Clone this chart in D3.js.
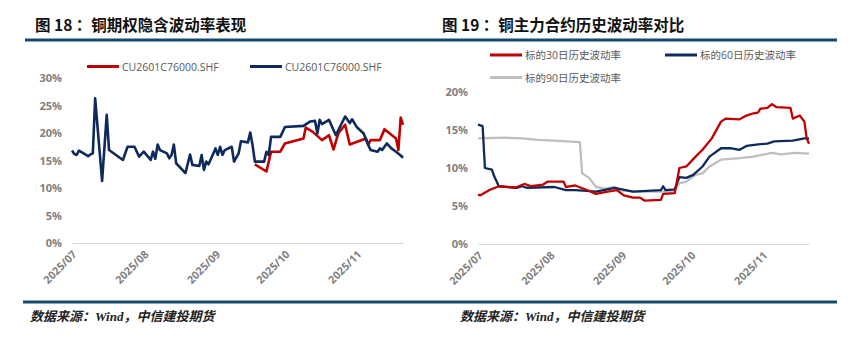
<!DOCTYPE html>
<html>
<head>
<meta charset="utf-8">
<script src="https://cdn.jsdelivr.net/npm/d3@7"></script>
<style>
  body { margin: 0; background: #fff; }
  svg { display: block; }
  .title { font-family: "Noto Sans CJK SC", sans-serif; font-weight: 700; font-size: 15.5px; fill: #111; }
  .src { font-family: "Liberation Serif", "Noto Sans CJK SC", serif; font-weight: 700; font-style: italic; font-size: 13px; fill: #222; }
  .tick { font-family: "Open Sans", "Noto Sans CJK SC", sans-serif; font-weight: 700; font-size: 11px; fill: #808080; }
  .xtick { font-family: "Noto Sans", sans-serif; font-weight: 700; font-size: 10.8px; fill: #808080; }
  .leg { font-family: "Open Sans", "Noto Sans CJK SC", sans-serif; font-size: 10.5px; fill: #595959; }
</style>
</head>
<body>
<div id="chart"></div>
<script>
// ---------------------------------------------------------------
// data (percent)

// fig 18: copper option implied volatility
let ivNames = ["CU2601C76000.SHF", "CU2601C76000.SHF"];
let ivRed = [
  ["2025-09-18", 14.3], ["2025-09-23", 13.0], ["2025-09-25", 16.6], ["2025-09-29", 16.6],
  ["2025-10-01", 18.1], ["2025-10-09", 19.0], ["2025-10-10", 21.0], ["2025-10-13", 20.2],
  ["2025-10-17", 18.7], ["2025-10-20", 19.6], ["2025-10-22", 17.0], ["2025-10-24", 19.9],
  ["2025-10-27", 21.5], ["2025-10-29", 17.9], ["2025-11-05", 19.0], ["2025-11-06", 17.9],
  ["2025-11-07", 18.7], ["2025-11-11", 18.7], ["2025-11-13", 20.7], ["2025-11-18", 19.0],
  ["2025-11-19", 16.9], ["2025-11-20", 22.8], ["2025-11-21", 21.5]
];
let ivBlue = [
  ["2025-07-01", 16.8], ["2025-07-02", 16.2], ["2025-07-03", 16.0], ["2025-07-04", 16.8],
  ["2025-07-08", 15.8], ["2025-07-09", 16.1], ["2025-07-10", 16.3], ["2025-07-11", 26.3],
  ["2025-07-14", 11.3], ["2025-07-16", 23.3], ["2025-07-17", 16.9], ["2025-07-23", 15.1],
  ["2025-07-25", 17.5], ["2025-07-28", 17.5], ["2025-07-30", 15.7], ["2025-08-01", 16.6],
  ["2025-08-04", 15.1], ["2025-08-05", 16.6], ["2025-08-06", 15.3], ["2025-08-07", 17.9],
  ["2025-08-08", 16.9], ["2025-08-11", 16.3], ["2025-08-12", 15.4], ["2025-08-13", 16.0],
  ["2025-08-14", 17.9], ["2025-08-15", 14.5], ["2025-08-19", 12.7], ["2025-08-21", 16.1],
  ["2025-08-22", 14.2], ["2025-08-25", 14.0], ["2025-08-26", 16.0], ["2025-08-27", 13.3],
  ["2025-08-28", 14.8], ["2025-08-29", 14.3], ["2025-09-01", 17.2], ["2025-09-02", 16.0],
  ["2025-09-03", 17.5], ["2025-09-04", 16.0], ["2025-09-05", 16.9], ["2025-09-08", 17.5],
  ["2025-09-09", 14.8], ["2025-09-11", 16.3], ["2025-09-12", 18.5], ["2025-09-15", 18.3],
  ["2025-09-16", 20.1], ["2025-09-17", 17.8], ["2025-09-18", 14.8], ["2025-09-22", 14.8],
  ["2025-09-23", 16.6], ["2025-09-24", 16.0], ["2025-09-25", 19.3], ["2025-09-29", 19.3],
  ["2025-10-01", 21.1], ["2025-10-09", 21.3], ["2025-10-12", 22.1], ["2025-10-14", 22.2],
  ["2025-10-15", 19.9], ["2025-10-16", 22.4], ["2025-10-17", 21.6], ["2025-10-20", 22.4],
  ["2025-10-23", 19.6], ["2025-10-27", 23.0], ["2025-10-29", 21.8], ["2025-10-30", 22.5],
  ["2025-11-01", 21.1], ["2025-11-04", 19.9], ["2025-11-06", 17.8], ["2025-11-07", 16.9],
  ["2025-11-10", 16.6], ["2025-11-11", 17.2], ["2025-11-12", 16.9], ["2025-11-14", 18.1],
  ["2025-11-16", 17.2], ["2025-11-18", 16.6], ["2025-11-20", 15.9], ["2025-11-21", 15.5]
];
let ivTicks = [0, 5, 10, 15, 20, 25, 30];

// fig 19: historical volatility of the main copper contract
let hvNames = ["标的30日历史波动率", "标的60日历史波动率", "标的90日历史波动率"];
let hv30 = [
  ["2025-07-01", 6.5], ["2025-07-02", 6.4], ["2025-07-06", 7.1], ["2025-07-10", 7.6],
  ["2025-07-17", 7.4], ["2025-07-21", 7.9], ["2025-07-24", 7.6], ["2025-07-29", 7.8],
  ["2025-07-31", 8.2], ["2025-08-07", 8.2], ["2025-08-08", 7.5], ["2025-08-12", 7.7],
  ["2025-08-17", 7.1], ["2025-08-21", 6.6], ["2025-08-26", 6.9], ["2025-08-30", 7.1],
  ["2025-09-02", 6.4], ["2025-09-06", 6.1], ["2025-09-09", 6.1], ["2025-09-11", 5.7],
  ["2025-09-18", 5.8], ["2025-09-19", 6.6], ["2025-09-24", 6.7], ["2025-09-26", 10.0],
  ["2025-09-29", 10.2], ["2025-10-03", 11.5], ["2025-10-06", 12.4], ["2025-10-10", 13.9],
  ["2025-10-14", 16.1], ["2025-10-16", 16.5], ["2025-10-22", 16.4], ["2025-10-25", 16.9],
  ["2025-10-28", 17.2], ["2025-10-30", 17.3], ["2025-10-31", 17.8], ["2025-11-03", 17.9],
  ["2025-11-05", 18.4], ["2025-11-07", 18.0], ["2025-11-13", 17.9], ["2025-11-14", 16.5],
  ["2025-11-17", 16.9], ["2025-11-19", 16.1], ["2025-11-20", 13.9], ["2025-11-21", 13.2]
];
let hv60 = [
  ["2025-07-01", 15.7], ["2025-07-03", 15.5], ["2025-07-04", 10.0], ["2025-07-07", 9.8],
  ["2025-07-08", 8.9], ["2025-07-10", 7.6], ["2025-07-18", 7.4], ["2025-07-20", 7.6],
  ["2025-07-22", 7.4], ["2025-08-03", 7.5], ["2025-08-08", 7.1], ["2025-08-12", 7.1],
  ["2025-08-17", 7.0], ["2025-08-21", 6.9], ["2025-08-29", 7.4], ["2025-09-06", 6.9],
  ["2025-09-18", 7.1], ["2025-09-19", 7.6], ["2025-09-20", 7.1], ["2025-09-24", 7.2],
  ["2025-09-26", 8.8], ["2025-09-29", 8.7], ["2025-10-02", 9.1], ["2025-10-06", 10.2],
  ["2025-10-09", 11.5], ["2025-10-14", 12.6], ["2025-10-18", 12.6], ["2025-10-22", 12.4],
  ["2025-10-25", 12.9], ["2025-10-30", 13.1], ["2025-11-03", 13.2], ["2025-11-06", 13.5],
  ["2025-11-14", 13.6], ["2025-11-19", 13.9], ["2025-11-21", 13.9]
];
let hv90 = [
  ["2025-07-01", 13.9], ["2025-07-12", 14.0], ["2025-07-20", 13.9], ["2025-07-27", 13.7],
  ["2025-08-03", 13.6], ["2025-08-14", 13.4], ["2025-08-15", 9.3], ["2025-08-17", 8.9],
  ["2025-08-18", 8.7], ["2025-08-21", 7.5], ["2025-08-25", 7.3], ["2025-08-29", 7.5],
  ["2025-08-31", 7.1], ["2025-09-06", 6.9], ["2025-09-18", 6.9], ["2025-09-24", 7.0],
  ["2025-09-26", 8.0], ["2025-09-29", 8.2], ["2025-10-03", 9.1], ["2025-10-06", 9.3],
  ["2025-10-09", 10.2], ["2025-10-14", 11.1], ["2025-10-22", 11.3], ["2025-10-28", 11.5],
  ["2025-11-05", 12.0], ["2025-11-09", 11.8], ["2025-11-15", 12.0], ["2025-11-21", 11.9]
];
let hvTicks = [0, 5, 10, 15, 20];

let monthTicks = ["2025-07-01", "2025-08-01", "2025-09-01", "2025-10-01", "2025-11-01"];
let dateRange = ["2025-07-01", "2025-11-21"];

let red = "#c00000", navy = "#0e2a5c", grey = "#bfbfbf", rule = "#174b6c";

// ---------------------------------------------------------------
let parse = d3.timeParse("%Y-%m-%d");

let svg = d3.select("#chart").append("svg")
  .attr("width", 868)
  .attr("height", 351);

// titles, rules, sources
svg.append("text").attr("class", "title").attr("x", 35).attr("y", 31).text("图 18 ：铜期权隐含波动率表现");
svg.append("text").attr("class", "title").attr("x", 442).attr("y", 31).text("图 19 ：铜主力合约历史波动率对比");
svg.append("rect").attr("x", 25).attr("y", 38.5).attr("width", 812).attr("height", 3).attr("fill", rule);
svg.append("rect").attr("x", 23).attr("y", 300.5).attr("width", 814).attr("height", 3).attr("fill", rule);
svg.append("text").attr("class", "src").attr("x", 30).attr("y", 321).text("数据来源：Wind，中信建投期货");
svg.append("text").attr("class", "src").attr("x", 460).attr("y", 321).text("数据来源：Wind，中信建投期货");

// one panel: scales, axes, lines, legend
function drawPanel(opt) {
  let x = d3.scaleTime().domain(dateRange.map(parse)).range([opt.x0, opt.x1]);
  let y = d3.scaleLinear().domain([0, opt.ymax]).range([opt.y0, opt.y1]);
  let g = svg.append("g");

  // x axis: only the baseline and the rotated month labels
  let xAxis = g.append("g")
    .attr("transform", "translate(0," + y(0) + ")")
    .call(d3.axisBottom(x).tickValues(monthTicks.map(parse)).tickFormat(d3.timeFormat("%Y/%m")).tickSize(0));
  xAxis.select(".domain").attr("stroke", "#d9d9d9").attr("stroke-width", 1);
  xAxis.selectAll("text")
    .attr("class", "xtick")
    .attr("font-family", null).attr("font-size", null).attr("fill", null)
    .attr("text-anchor", "end")
    .attr("x", 0).attr("y", 0).attr("dy", null)
    .attr("transform", "translate(5,12) rotate(-45)");

  opt.ticks.forEach(t => {
    g.append("text")
      .attr("class", "tick")
      .attr("x", opt.x0 - 10)
      .attr("y", y(t) + 4)
      .attr("text-anchor", "end")
      .text(t + "%");
  });

  let line = d3.line()
    .x(d => x(parse(d[0])))
    .y(d => y(d[1]));

  opt.series.forEach(s => {
    g.append("path")
      .attr("d", line(s.data))
      .attr("fill", "none")
      .attr("stroke", s.color)
      .attr("stroke-width", opt.width)
      .attr("stroke-linejoin", "round");
  });

  opt.legend.forEach(l => {
    g.append("line")
      .attr("x1", l.x).attr("x2", l.x + 32)
      .attr("y1", l.y).attr("y2", l.y)
      .attr("stroke", l.color).attr("stroke-width", 3);
    g.append("text").attr("class", "leg")
      .attr("x", l.x + 35).attr("y", l.y + 4)
      .text(l.name);
  });
}

drawPanel({
  x0: 72, x1: 403, y0: 243, y1: 78, ymax: 30, ticks: ivTicks, width: 2.6,
  series: [
    { data: ivRed, color: red },
    { data: ivBlue, color: navy }
  ],
  legend: [
    { x: 87, y: 66.5, color: red, name: ivNames[0] },
    { x: 250, y: 66.5, color: navy, name: ivNames[1] }
  ]
});

drawPanel({
  x0: 478, x1: 809, y0: 244, y1: 92, ymax: 20, ticks: hvTicks, width: 2.3,
  series: [
    { data: hv90, color: grey },
    { data: hv60, color: navy },
    { data: hv30, color: red }
  ],
  legend: [
    { x: 490, y: 55, color: red, name: hvNames[0] },
    { x: 665, y: 55, color: navy, name: hvNames[1] },
    { x: 490, y: 77.5, color: grey, name: hvNames[2] }
  ]
});
</script>
</body>
</html>
